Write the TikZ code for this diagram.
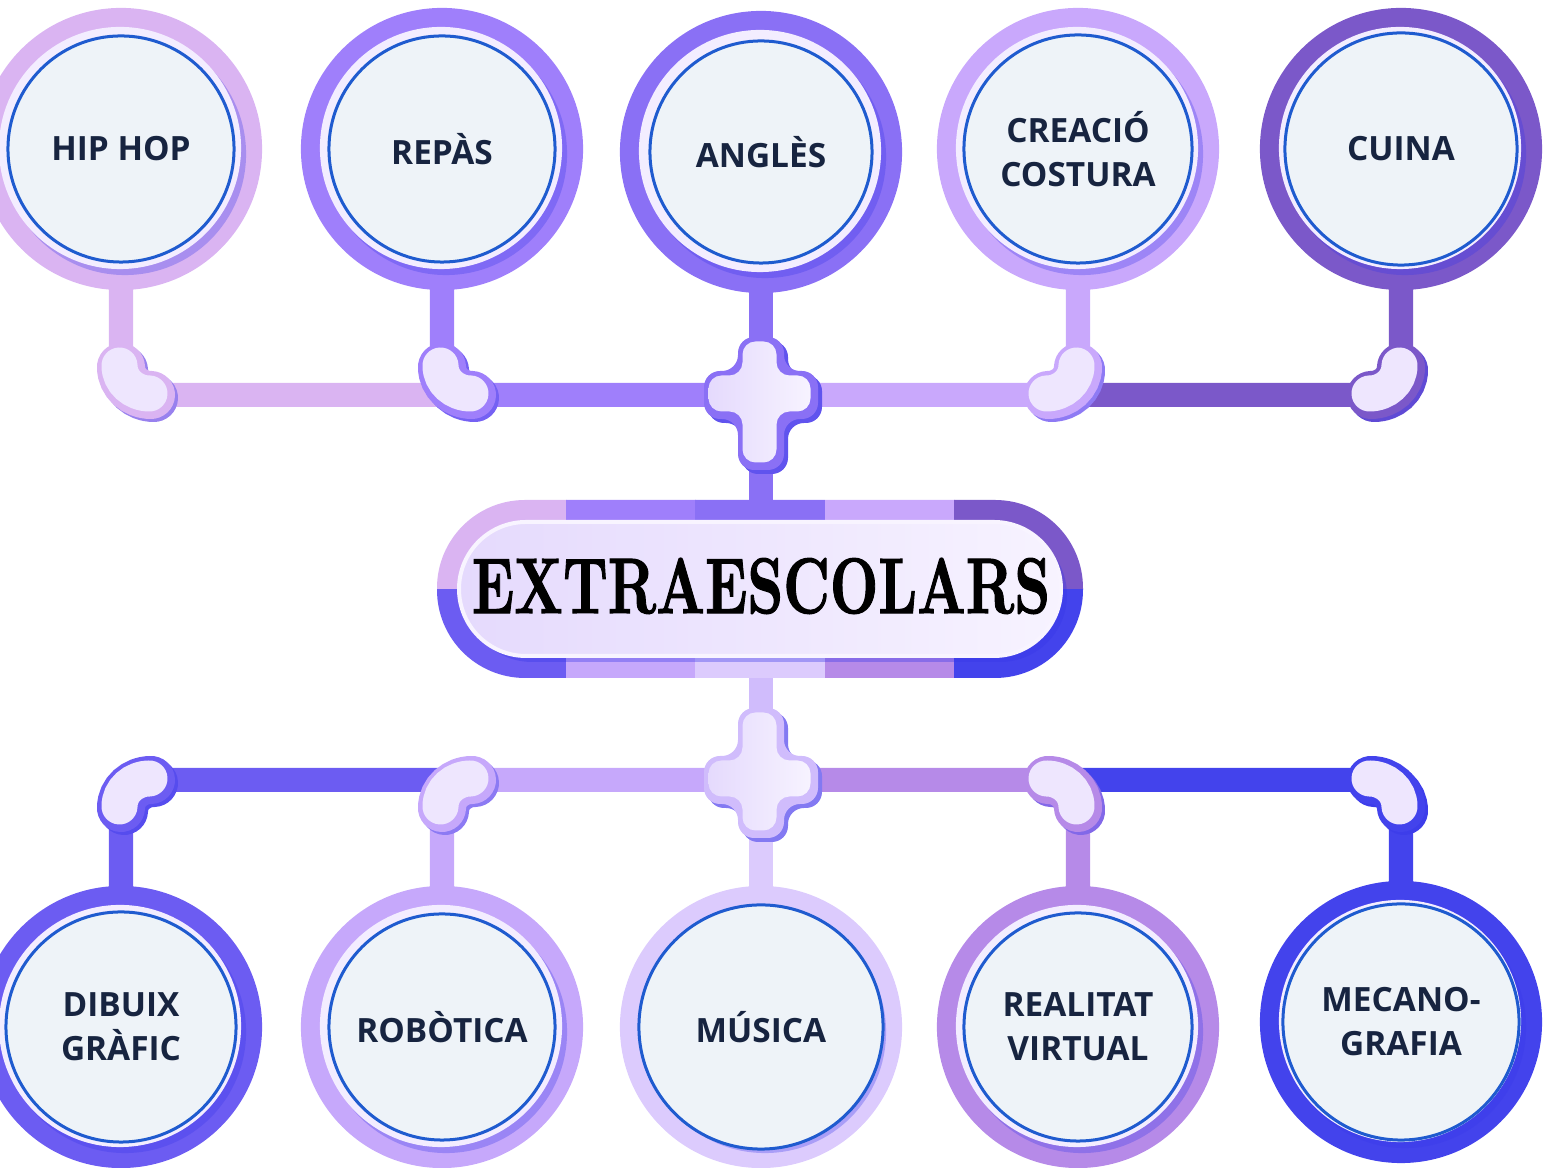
\documentclass[tikz,border=0pt]{standalone}
\usepackage{fontspec}
\usepackage{graphicx}
\newfontfamily\labelfont{Open Sans}
\newfontfamily\titlefont[FakeBold=1.5]{lmroman10-bold.otf}
\pgfdeclarelayer{back}
\pgfsetlayers{back,main}

\definecolor{cHip}{HTML}{DAB4F2}
\definecolor{cRep}{HTML}{9F7FFB}
\definecolor{cAng}{HTML}{8A70F5}
\definecolor{cCre}{HTML}{C9A8FC}
\definecolor{cCui}{HTML}{7B58C9}
\definecolor{cDib}{HTML}{6C5CF2}
\definecolor{cRob}{HTML}{C6A8FB}
\definecolor{cMus}{HTML}{DCCBFD}
\definecolor{cRea}{HTML}{B68AE8}
\definecolor{cMec}{HTML}{4343EC}
\definecolor{cLow}{HTML}{D0BCFC}
\definecolor{cShade}{HTML}{3535E8}
\definecolor{cHalo}{HTML}{F3EDFF}
\definecolor{cFace}{HTML}{EEF3F8}
\definecolor{cEdge}{HTML}{1F5BCF}
\definecolor{cText}{HTML}{172440}
\definecolor{cSoft}{HTML}{EEE6FE}
\definecolor{cIn1}{HTML}{E5DAFD}
\definecolor{cIn2}{HTML}{F7F3FF}
\definecolor{cRim}{HTML}{F8F4FF}

\tikzset{
  ring/.style={circle, minimum size=2.82cm, inner sep=0pt},
  halo/.style={circle, minimum size=2.42cm, inner sep=0pt, fill=cHalo},
  face/.style={circle, inner sep=0pt, fill=cFace, draw=cEdge, line width=0.03cm,
    text=cText, align=center, font=\labelfont\bfseries\fontsize{9.5}{12.5}\selectfont},
  pipe/.style={line width=0.24cm, rounded corners=0.3cm},
}

% elbow joint: corner, stem side (-1 above, 1 below), turn (1 right, -1 left), colour
\newcommand\elbow[4]{%
  \foreach \o/\w/\k in {3/0.48/#4!60!cShade, 0/0.48/#4, -1.5/0.36/cSoft}
    \draw[shift={(#1)}, shift={(\o,\o)}, line width=\w cm, line cap=round, draw=\k]
      (0,#2*28) .. controls (0,#2*12) and (#3*14,0) .. (#3*30,0);
}
\newcommand\crosspath[5]{(-#1,#4) -- (#1,#4) -- (#1,-#2) -- (#3,-#2) -- (#3,#2) -- (#1,#2)
  -- (#1,#5) -- (-#1,#5) -- (-#1,#2) -- (-#3,#2) -- (-#3,-#2) -- (-#1,-#2) -- cycle}
% cross joint: centre, top, bottom, colour
\newcommand\plusjoint[4]{%
  \fill[shift={(#1)}, shift={(4,4)}, rounded corners=0.16cm, #4!50!cShade] \crosspath{23}{24}{57}{#2}{#3};
  \fill[shift={(#1)}, rounded corners=0.16cm, #4] \crosspath{23}{24}{57}{#2}{#3};
  \shade[shift={(#1)}, shift={(-1.5,-1.5)}, rounded corners=0.13cm, left color=cIn1, right color=cIn2]
    \crosspath{17}{18}{51}{#2+6}{#3-6};
}

\begin{document}
\begin{tikzpicture}[x=0.01cm, y=-0.01cm]
\useasboundingbox (0,0) rectangle (1553,1168);
\clip (0,0) rectangle (1553,1168);

% activities
\foreach \n/\x/\y/\c/\t/\r in {
    hip/121/149/cHip/{HIP HOP}/2.26, rep/442/149/cRep/{REPÀS}/2.26,
    ang/761/152/cAng/{ANGLÈS}/2.22, cre/1078/149/cCre/{CREACIÓ\\COSTURA}/2.28,
    cui/1401/149/cCui/{CUINA}/2.32,
    dib/121/1027/cDib/{DIBUIX\\GRÀFIC}/2.30, rob/442/1027/cRob/{ROBÒTICA}/2.26,
    mus/761/1027/cMus/{MÚSICA}/2.44, rea/1078/1027/cRea/{REALITAT\\VIRTUAL}/2.28,
    mec/1401/1022/cMec/{MECANO-\\GRAFIA}/2.36}{
  \node[ring, fill=\c] at (\x,\y) {};
  \node[halo, fill=\c!70!cShade] at (\x+4,\y+5) {};
  \node[halo] at (\x-1,\y-1) {};
  \node[face, minimum size=\r cm] (\n) at (\x,\y) {\t};
}

\coordinate (hipb) at (121,395);
\coordinate (repb) at (442,395);
\coordinate (topx) at (761,395);
\coordinate (creb) at (1078,395);
\coordinate (cuib) at (1401,395);
\coordinate (dibb) at (121,780);
\coordinate (robb) at (442,780);
\coordinate (botx) at (761,780);
\coordinate (reab) at (1078,780);
\coordinate (mecb) at (1401,780);

% title box
\begin{scope}
  \clip[rounded corners=0.88cm] (437,500) rectangle (1083,678);
  \foreach \c [count=\i from 0] in {cHip,cRep,cAng,cCre,cCui}
    \fill[\c] ({437+129.2*\i},498) rectangle ++(130,91);
  \foreach \c [count=\i from 0] in {cDib,cRob,cMus,cRea,cMec}
    \fill[\c] ({437+129.2*\i},589) rectangle ++(130,91);
  \fill[cShade, opacity=0.35, rounded corners=0.67cm] (465,528) rectangle (1067,662);
\end{scope}
\shadedraw[left color=cIn1, right color=cIn2, draw=cRim, line width=0.04cm, rounded corners=0.67cm]
  (459,522) rectangle (1061,656);
\node (title) at (761,586) {\resizebox{5.78cm}{0.55cm}{\titlefont EXTRAESCOLARS}};

% joints
\elbow{hipb}{-1}{1}{cHip}
\elbow{repb}{-1}{1}{cRep}
\elbow{creb}{-1}{-1}{cCre}
\elbow{cuib}{-1}{-1}{cCui}
\elbow{dibb}{1}{1}{cDib}
\elbow{robb}{1}{1}{cRob}
\elbow{reab}{1}{-1}{cRea}
\elbow{mecb}{1}{-1}{cMec}
\plusjoint{topx}{-58}{75}{cAng}
\plusjoint{botx}{-72}{58}{cLow}

\begin{pgfonlayer}{back}
  \draw[pipe, cHip] (hip) -- (hipb) -- (repb);
  \draw[pipe, cRep] (rep) -- (repb) -- (topx);
  \draw[pipe, cAng] (ang) -- (title);
  \draw[pipe, cCre] (cre) -- (creb) -- (topx);
  \draw[pipe, cCui] (cui) -- (cuib) -- (creb);
  \draw[pipe, cDib] (dib) -- (dibb) -- (robb);
  \draw[pipe, cRob] (rob) -- (robb) -- (botx);
  \draw[pipe, cLow] (title) -- (botx);
  \draw[pipe, cMus] (botx) -- (mus);
  \draw[pipe, cRea] (rea) -- (reab) -- (botx);
  \draw[pipe, cMec] (mec) -- (mecb) -- (reab);
\end{pgfonlayer}
\end{tikzpicture}
\end{document}
